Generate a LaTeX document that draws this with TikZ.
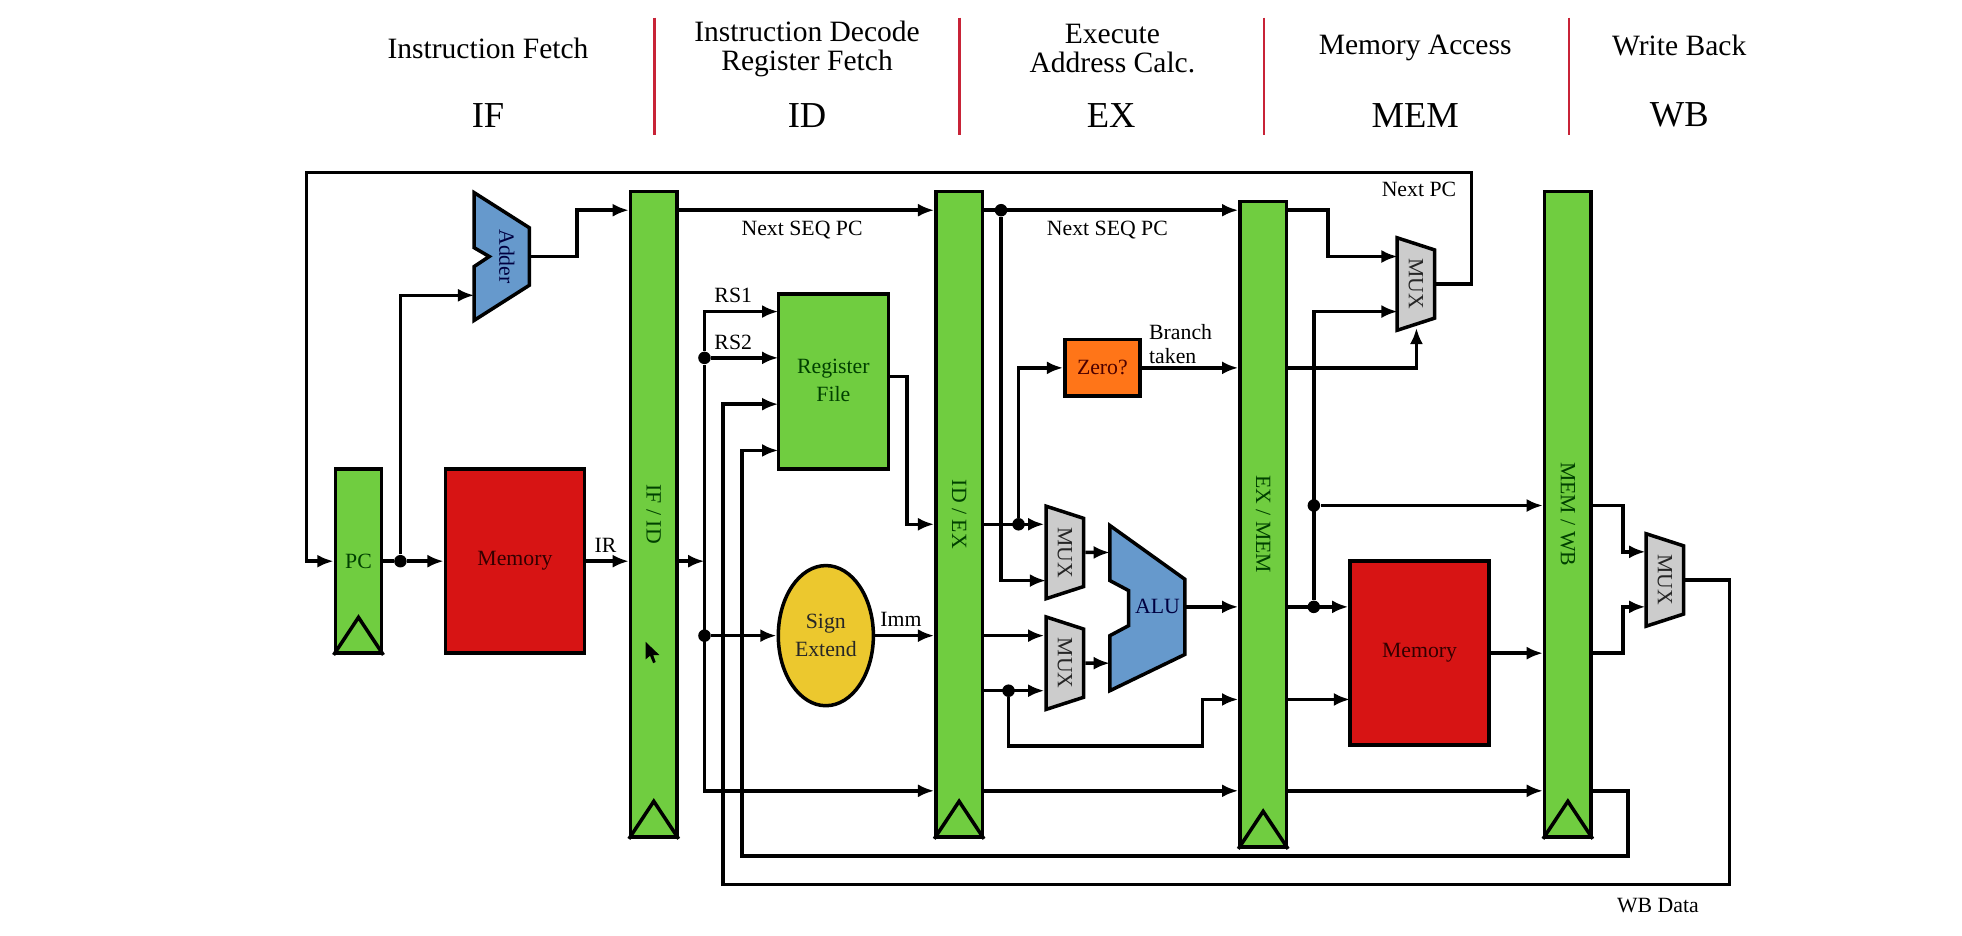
\documentclass[tikz,border=0pt]{standalone}
\usepackage{fontspec}
\setmainfont{Liberation Serif}
\usetikzlibrary{positioning,calc,arrows.meta,shapes.geometric}

\definecolor{stagegreen}{RGB}{112,205,64}
\definecolor{memred}{RGB}{215,20,20}
\definecolor{unitblue}{RGB}{102,153,204}
\definecolor{zeroorange}{RGB}{255,117,24}
\definecolor{signyellow}{RGB}{236,200,46}
\definecolor{muxgray}{RGB}{204,204,204}
\definecolor{divred}{RGB}{200,35,55}

\begin{document}
\begin{tikzpicture}[
    x=0.5pt, y=-0.5pt,
    smalltext/.style={font=\fontsize{8.7}{11}\selectfont},
    heading/.style={font=\fontsize{11.8}{11.5}\selectfont, align=center},
    stagename/.style={font=\fontsize{14.6}{16}\selectfont},
    divider/.style={draw=divred, line width=1pt},
    box/.style={draw, line width=1.4pt, inner sep=0pt, smalltext, align=center},
    pipereg/.style={box, fill=stagegreen, minimum width=18.5pt},
    regname/.style={smalltext, text=green!25!black, inner sep=0pt},
    memblock/.style={box, fill=memred, minimum width=55.5pt, minimum height=73.5pt, text=red!20!black},
    mux/.style={trapezium, trapezium stretches=true, trapezium angle=58, draw, line width=1.4pt, fill=muxgray,
      inner sep=0pt, minimum width=37pt, minimum height=15pt, rotate=-90, smalltext, text=black!85},
    unit/.style={draw, line width=1.4pt, fill=unitblue, line join=miter},
    unitname/.style={smalltext, text=blue!25!black, inner sep=0pt},
    clock/.style={line width=1.4pt},
    flow/.style={-{Latex[length=6.5pt,width=5.2pt]}, line width=1.4pt},
    plain/.style={line width=1.4pt},
    dot/.style={circle, fill=black, inner sep=0pt, minimum size=5pt},
    wirelabel/.style={smalltext, inner sep=0pt},
]
  \useasboundingbox (0,0) rectangle (1568,748);

  % stage headers
  \draw[divider] (523,14) -- (523,108);
  \draw[divider] (767,14) -- (767,108);
  \draw[divider] (1010,14) -- (1010,108);
  \draw[divider] (1254,14) -- (1254,108);
  \node[heading] (iftitle) at (390,39) {Instruction Fetch};
  \node[heading] (idtitle) at (645,39) {Instruction Decode\\Register Fetch};
  \node[heading] (extitle) at (889,39) {Execute\\Address Calc.};
  \node[heading] (memtitle) at (1131,38) {Memory Access};
  \node[heading] (wbtitle) at (1342,36) {Write Back};
  \node[stagename] (ifname) at (390,92) {IF};
  \node[stagename] (idname) at (645,92) {ID};
  \node[stagename] (exname) at (888,92) {EX};
  \node[stagename] (memname) at (1131,92) {MEM};
  \node[stagename] (wbname) at (1342,92) {WB};

  % pipeline registers
  \node[pipereg, minimum height=73.5pt] (pcreg) at (286.5,448.5) {};
  \node[pipereg, minimum height=258pt] (ifid) at (522.5,411) {};
  \node[pipereg, minimum height=258pt] (idex) at (766.5,411) {};
  \node[pipereg, minimum height=258pt] (exmem) at (1009.5,419) {};
  \node[pipereg, minimum height=258pt] (memwb) at (1253,411) {};
  \draw[clock] (pcreg.south west) -- ($(pcreg.south)+(0,-30)$) -- (pcreg.south east);
  \draw[clock] (ifid.south west) -- ($(ifid.south)+(0,-30)$) -- (ifid.south east);
  \draw[clock] (idex.south west) -- ($(idex.south)+(0,-30)$) -- (idex.south east);
  \draw[clock] (exmem.south west) -- ($(exmem.south)+(0,-30)$) -- (exmem.south east);
  \draw[clock] (memwb.south west) -- ($(memwb.south)+(0,-30)$) -- (memwb.south east);
  \node[regname] (pcname) at (pcreg) {PC};
  \node[regname, rotate=-90] (ifidname) at (ifid) {IF / ID};
  \node[regname, rotate=-90] (idexname) at (idex) {ID / EX};
  \node[regname, rotate=-90] (exmemname) at (exmem) {EX / MEM};
  \node[regname, rotate=-90] (memwbname) at (memwb) {MEM / WB};

  % functional blocks
  \node[memblock] (imem) at (411.5,448.5) {\raisebox{-1pt}{Memory}};
  \node[memblock] (dmem) at (1134.5,522) {\raisebox{-1pt}{Memory}};
  \node[box, fill=stagegreen, minimum width=44pt, minimum height=70pt, text=green!25!black] (regfile) at (666,305) {\raisebox{1pt}{Register}\\\raisebox{1pt}{File}};
  \node[box, fill=zeroorange, minimum width=30pt, minimum height=22.5pt, text=red!30!black] (zero) at (881,294) {Zero?};
  \node[box, ellipse, fill=signyellow, minimum width=38pt, minimum height=56pt, text=black!85] (signext) at (660,508) {Sign\\Extend};

  % adder and alu outlines
  \draw[unit] (379,154) -- (423,182) -- (423,228) -- (379,256) -- (379,213) -- (391,205) -- (379,198) -- cycle;
  \draw[unit] (887,420) -- (947,463) -- (947,523) -- (887,552) -- (887,508) -- (902,500) -- (902,472) -- (887,464) -- cycle;
  \node[unitname, rotate=-90] (addername) at (405,205) {Adder};
  \node[unitname] (aluname) at (925,485) {ALU};

  % multiplexers
  \node[mux] (muxpc) at (1131.5,227) {MUX};
  \node[mux] (muxa) at (851,441.5) {MUX};
  \node[mux] (muxb) at (851,530) {MUX};
  \node[mux] (muxwb) at (1330.5,463.5) {MUX};

  % wire ends and bends
  \coordinate (adderin) at (379,236);
  \coordinate (adderout) at (423,205);
  \coordinate (seqrail) at (0,168);
  \coordinate (instrrail) at (0,632);
  \coordinate (rsonein) at (622,249);
  \coordinate (rstwoin) at (622,286);
  \coordinate (wbin) at (622,323);
  \coordinate (destin) at (622,360);
  \coordinate (irtap) at (563,448.5);
  \coordinate (rfout) at (710,301);
  \coordinate (muxabin) at (836,464);
  \coordinate (aluain) at (887,441.5);
  \coordinate (alubin) at (887,530);
  \coordinate (aluout) at (947,485);
  \coordinate (storebend) at (961,596);
  \coordinate (dmembin) at (1079,559);
  \coordinate (muxpcain) at (1117,205);
  \coordinate (muxpcbin) at (1117,249);
  \coordinate (muxpcsel) at (1132,262);
  \coordinate (wbaain) at (1315,441);
  \coordinate (wbabin) at (1315,485);
  \coordinate (loopright) at (1176,138);
  \coordinate (loopleft) at (245,138);
  \coordinate (destright) at (1301,684);
  \coordinate (destleft) at (593,684);
  \coordinate (wbright) at (1382,707);
  \coordinate (wbleft) at (578,707);

  % junction dots
  \node[dot] (pcdot) at (320,448.5) {};
  \node[dot] (rsdot) at (563,286) {};
  \node[dot] (immdot) at (563,508) {};
  \node[dot] (seqdot) at (800,168) {};
  \node[dot] (fwddot) at (814,419) {};
  \node[dot] (storedot) at (806,552) {};
  \node[dot] (bypassdot) at (1050,404) {};
  \node[dot] (memdot) at (1050,485) {};

  % fetch stage
  \draw[flow] (muxpc.north) -| (loopright) -- (loopleft) |- (pcreg.west);
  \draw[plain] (pcreg.east) -- (pcdot);
  \draw[flow] (pcdot) -- (imem.west);
  \draw[flow] (pcdot) |- (adderin);
  \draw[flow] (adderout) -- ++(38,0) |- (ifid.west |- seqrail);
  \draw[flow] (imem.east) -- (ifid.west |- imem.east);
  \draw[flow] (ifid.east |- seqrail) -- (idex.west |- seqrail);

  % decode stage
  \draw[flow] (ifid.east |- imem.east) -- (irtap);
  \draw[flow] (rsdot) |- (rsonein);
  \draw[flow] (rsdot) -- (rstwoin);
  \draw[flow] (rsdot) |- (idex.west |- instrrail);
  \draw[flow] (immdot) -- (signext.west);
  \draw[flow] (signext.east) -- (idex.west |- signext.east);
  \draw[flow] (rfout) -- ++(15,0) |- (idex.west |- fwddot);

  % execute stage
  \draw[flow] (idex.east |- seqrail) -- (exmem.west |- seqrail);
  \draw[flow] (seqdot) |- (muxabin);
  \draw[flow] (idex.east |- fwddot) -- (muxa.south |- fwddot);
  \draw[flow] (fwddot) |- (zero.west);
  \draw[flow] (zero.east) -- (exmem.west |- zero.east);
  \draw[flow] (idex.east |- signext.east) -- (muxb.south |- signext.east);
  \draw[flow] (idex.east |- storedot) -- (muxb.south |- storedot);
  \draw[flow] (muxa.north) -- (aluain);
  \draw[flow] (muxb.north) -- (alubin);
  \draw[flow] (aluout) -- (exmem.west |- aluout);
  \draw[flow] (storedot) |- (storebend) |- (exmem.west |- dmembin);
  \draw[flow] (idex.east |- instrrail) -- (exmem.west |- instrrail);

  % memory stage
  \draw[flow] (exmem.east |- seqrail) -- ++(32,0) |- (muxpcain);
  \draw[flow] (exmem.east |- zero.east) -| (muxpcsel);
  \draw[flow] (memdot) |- (muxpcbin);
  \draw[flow] (bypassdot) -- (memwb.west |- bypassdot);
  \draw[flow] (exmem.east |- aluout) -- (dmem.west |- aluout);
  \draw[flow] (exmem.east |- dmembin) -- (dmembin);
  \draw[flow] (dmem.east) -- (memwb.west |- dmem.east);
  \draw[flow] (exmem.east |- instrrail) -- (memwb.west |- instrrail);

  % write back
  \draw[flow] (memwb.east |- bypassdot) -- ++(24,0) |- (wbaain);
  \draw[flow] (memwb.east |- dmem.east) -- ++(24,0) |- (wbabin);
  \draw[flow] (memwb.east |- instrrail) -| (destright) -- (destleft) |- (destin);
  \draw[flow] (muxwb.north) -| (wbright) -- (wbleft) |- (wbin);

  % wire labels
  \node[wirelabel] (irlabel) at (484,436) {IR};
  \node[wirelabel] (seqlabela) at (641,183.5) {Next SEQ PC};
  \node[wirelabel] (seqlabelb) at (885,183.5) {Next SEQ PC};
  \node[wirelabel] (rsonelabel) at (586,236) {RS1};
  \node[wirelabel] (rstwolabel) at (586,274) {RS2};
  \node[wirelabel] (immlabel) at (720,495) {Imm};
  \node[wirelabel, anchor=west, align=left, font=\fontsize{8.7}{9.5}\selectfont] (branchlabel) at (918,275) {Branch\\taken};
  \node[wirelabel] (nextpclabel) at (1134,151) {Next PC};
  \node[wirelabel] (wbdatalabel) at (1325,724) {WB Data};

  % mouse pointer
  \fill (516,513) -- (516,527) -- (519.5,524) -- (522,530) -- (524,529) -- (522,523.5) -- (527,523.5) -- cycle;
\end{tikzpicture}
\end{document}
